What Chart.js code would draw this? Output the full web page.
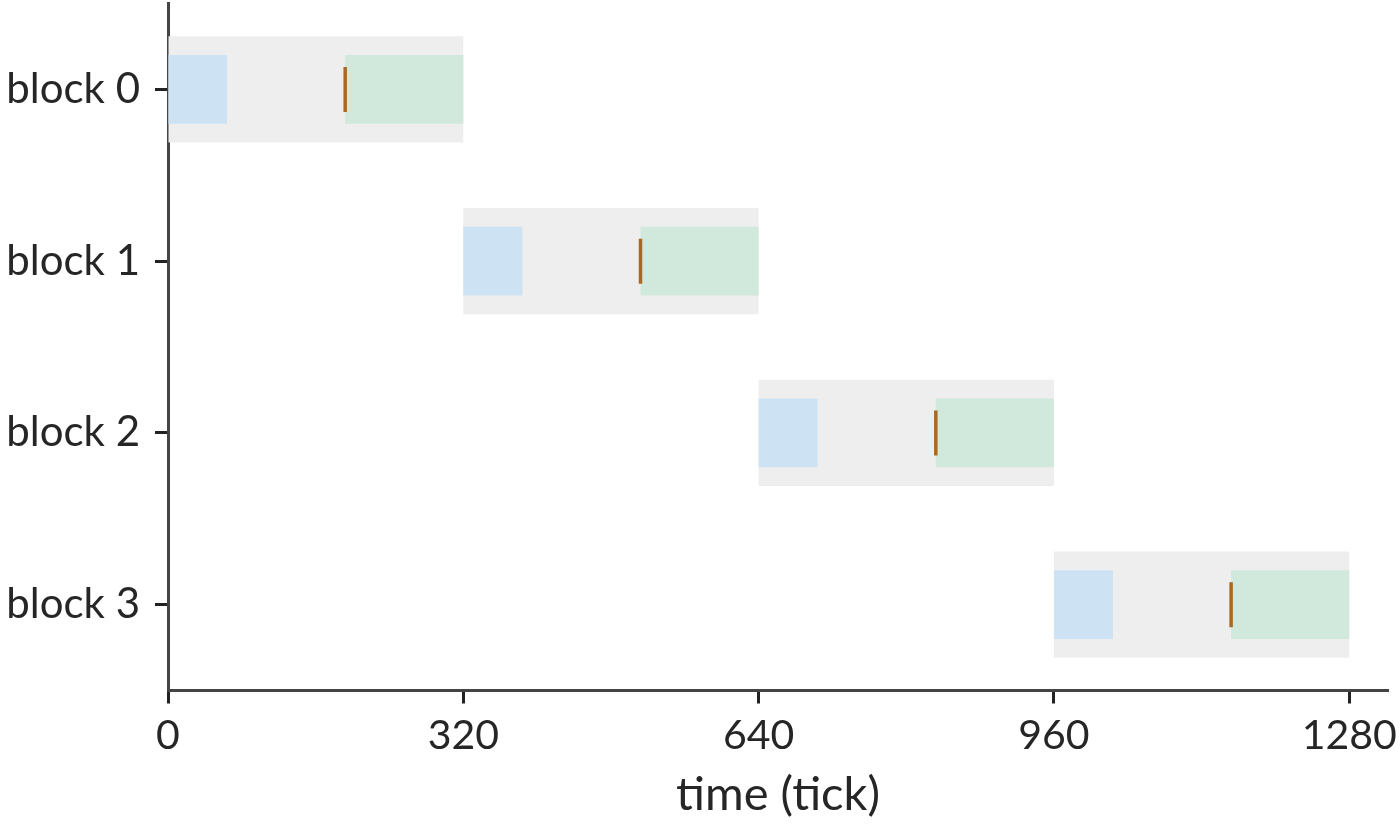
<!DOCTYPE html>
<html>
<head>
<meta charset="utf-8">
<script src="https://cdn.jsdelivr.net/npm/chart.js@4/dist/chart.umd.min.js"></script>
<style>
html,body{margin:0;padding:0;background:#fff;}
#wrap{width:1400px;height:825px;}
</style>
</head>
<body>
<div id="wrap"><canvas id="c" width="1400" height="825"></canvas></div>
<script>
const categories = ['block 0', 'block 1', 'block 2', 'block 3'];
const blockStart = [0, 320, 640, 960];
const blockEnd = [320, 640, 960, 1280];
const loadEnd = [64, 384, 704, 1024];
const computeStart = [192, 512, 832, 1152];
const markerAt = [192, 512, 832, 1152];
const xTicks = [0, 320, 640, 960, 1280];
const xMax = 1322;

const FONT = 'Lato';
const TEXT = '#262626';

new Chart(document.getElementById('c'), {
  type: 'bar',
  data: {
    labels: categories,
    datasets: [
      {
        type: 'scatter',
        data: categories.map((c, i) => ({x: markerAt[i], y: c})),
        pointStyle: 'line',
        rotation: 90,
        radius: 22.5,
        hoverRadius: 22.5,
        borderWidth: 3.5,
        borderColor: '#a86a22',
        backgroundColor: '#a86a22'
      },
      {
        data: categories.map((c, i) => [blockStart[i], loadEnd[i]]),
        backgroundColor: '#cde3f3',
        grouped: false,
        barPercentage: 0.40,
        categoryPercentage: 1
      },
      {
        data: categories.map((c, i) => [computeStart[i], blockEnd[i]]),
        backgroundColor: '#d1e8dc',
        grouped: false,
        barPercentage: 0.40,
        categoryPercentage: 1
      },
      {
        data: categories.map((c, i) => [blockStart[i], blockEnd[i]]),
        backgroundColor: '#eeeeee',
        grouped: false,
        barPercentage: 0.62,
        categoryPercentage: 1
      }
    ]
  },
  options: {
    indexAxis: 'y',
    responsive: false,
    animation: false,
    devicePixelRatio: 1,
    layout: {autoPadding: false, padding: {top: 3.5, right: 12, left: 0, bottom: 0}},
    plugins: {legend: {display: false}, tooltip: {enabled: false}},
    scales: {
      x: {
        type: 'linear',
        min: 0,
        max: xMax,
        afterBuildTicks: (s) => { s.ticks = xTicks.map(v => ({value: v})); },
        afterFit: (s) => { s.height = 825 - 690.5; s.paddingLeft = 0; s.paddingRight = 0; },
        border: {display: true, color: '#444444', width: 3},
        grid: {drawOnChartArea: false, drawTicks: true, tickLength: 13, tickWidth: 3, tickColor: '#222222'},
        ticks: {color: TEXT, font: {family: FONT, size: 41}, padding: 8, maxRotation: 0,
                callback: (v) => String(v)},
        title: {display: true, text: 'time (tick)', color: TEXT, font: {family: FONT, size: 47}, padding: {top: 0, bottom: 2}}
      },
      y: {
        type: 'category',
        offset: true,
        afterFit: (s) => { s.width = 168; s.paddingTop = 0; s.paddingBottom = 0; },
        border: {display: true, color: '#444444', width: 3},
        grid: {drawOnChartArea: false, drawTicks: true, tickLength: 13, tickWidth: 3, tickColor: '#222222', offset: false},
        ticks: {color: TEXT, font: {family: FONT, size: 42}, padding: 15}
      }
    }
  }
});
</script>
</body>
</html>
